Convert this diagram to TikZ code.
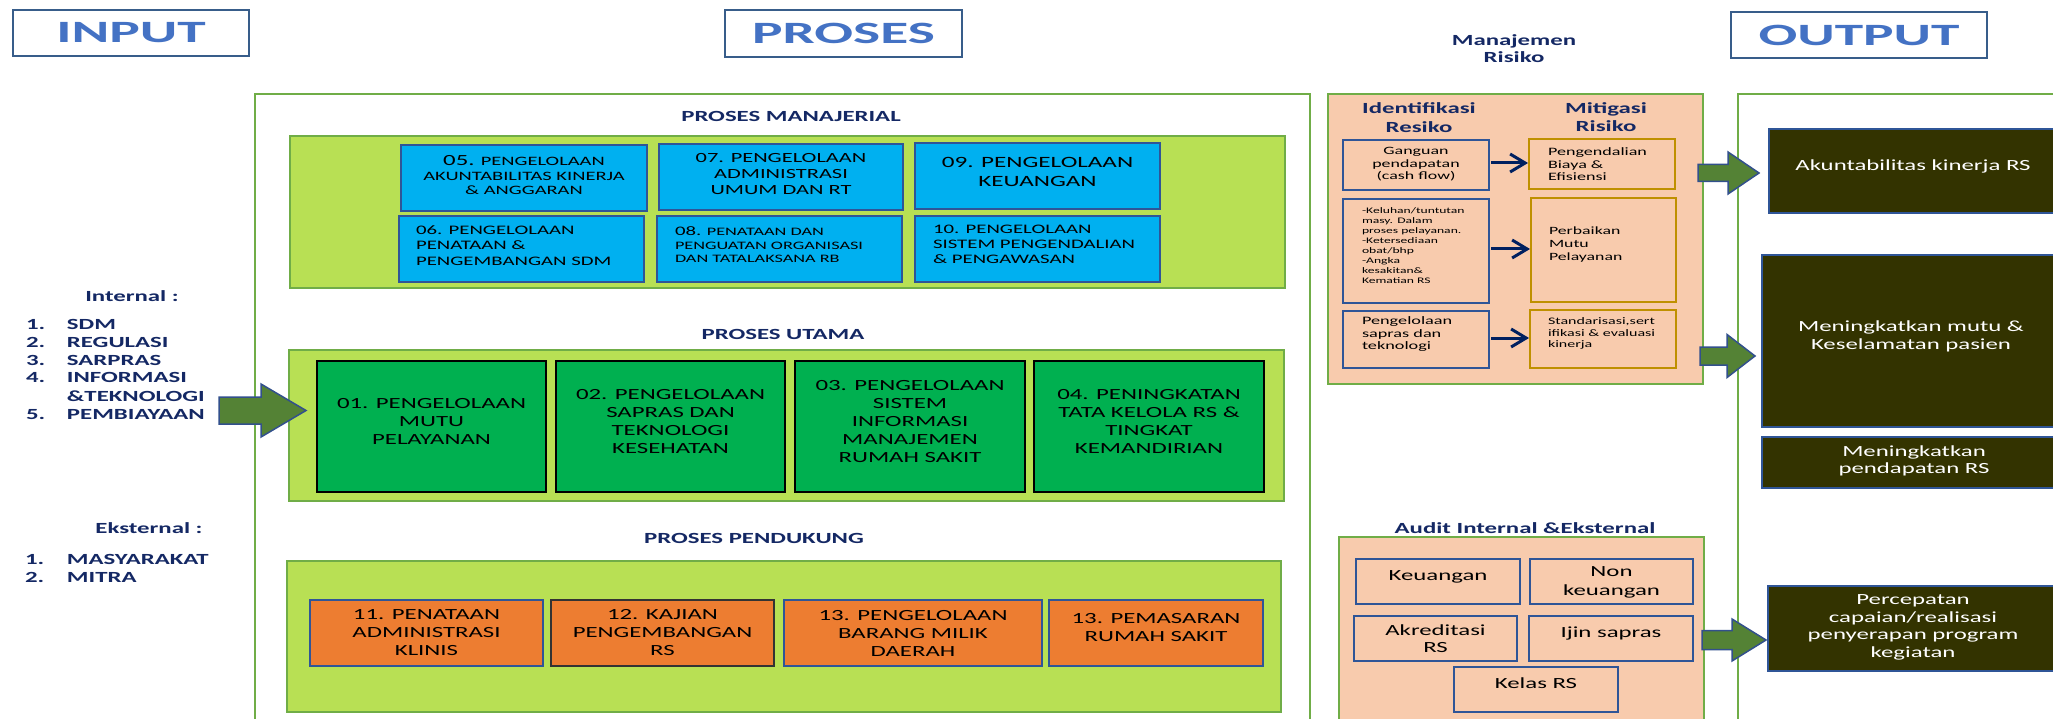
\documentclass[tikz,border=0pt]{standalone}
\usepackage{fontspec}
\setmainfont{Carlito}[FakeStretch=1.6]
\newfontfamily\headfont{Carlito}[FakeStretch=1.85]
\usetikzlibrary{arrows.meta,calc}

\definecolor{hdrblue}{RGB}{68,114,196}
\definecolor{hdrline}{RGB}{56,93,138}
\definecolor{navy}{RGB}{20,40,100}
\definecolor{framegreen}{RGB}{112,173,71}
\definecolor{lime}{RGB}{184,224,84}
\definecolor{skyblue}{RGB}{0,176,240}
\definecolor{boxline}{RGB}{47,85,151}
\definecolor{procgreen}{RGB}{0,176,80}
\definecolor{supportorange}{RGB}{237,125,49}
\definecolor{peach}{RGB}{248,203,173}
\definecolor{gold}{RGB}{191,144,0}
\definecolor{olive}{RGB}{51,51,0}
\definecolor{arrowgreen}{RGB}{84,130,53}
\definecolor{arrowline}{RGB}{50,80,140}
\definecolor{riskarrowc}{RGB}{0,32,96}

\newcommand{\fs}[2]{\fontsize{#1}{#2}\selectfont}
% box from corner (x1,y1) to corner (x2,y2): name, style, x1, y1, x2, y2, text
\newcommand{\rbox}[7]{\node[#2, minimum width={#5-#3}, minimum height={#6-#4}] (#1) at ({(#3+#5)/2},{(#4+#6)/2}) {#7};}
% block arrow: from, to, shaft half width, head half width, head length
\newcommand{\blockarrow}[5]{%
  \draw[blockarr] let \p1=(#1), \p2=(#2) in
    (\x1,\y1+#3) -- (\x2-#5,\y1+#3) -- (\x2-#5,\y1+#4) -- (\x2,\y1)
    -- (\x2-#5,\y1-#4) -- (\x2-#5,\y1-#3) -- (\x1,\y1-#3) -- cycle;}

\tikzset{
  every node/.style={inner sep=0pt, outer sep=0pt},
  hdrbox/.style={draw=hdrline, line width=2pt, fill=white, text=hdrblue,
    font=\headfont\bfseries\fs{31}{36}},
  frame/.style={draw=framegreen, line width=2pt},
  limebox/.style={draw=framegreen, line width=2pt, fill=lime},
  bluebox/.style={draw=boxline, line width=1.8pt, fill=skyblue},
  greenbox/.style={draw=black, line width=2pt, fill=procgreen},
  orangebox/.style={draw=boxline, line width=1.8pt, fill=supportorange},
  peachframe/.style={draw=framegreen, line width=2pt, fill=peach},
  idbox/.style={draw=boxline, line width=1.8pt, fill=peach},
  mitbox/.style={draw=gold, line width=1.8pt, fill=peach},
  outbox/.style={draw=boxline, line width=1.8pt, fill=olive, text=white,
    align=center, font=\fs{15.5}{18}},
  navytitle/.style={text=navy, font=\bfseries\fs{15.5}{18}, align=center},
  listtext/.style={text=navy, font=\bfseries\fs{15.5}{18}},
  boxtext/.style={text=black, align=center, font=\fs{15.5}{18}},
  blockarr/.style={draw=arrowline, line width=1.5pt, fill=arrowgreen, line join=miter},
  riskarrow/.style={draw=riskarrowc, line width=3pt,
    -{Straight Barb[length=15pt,width=18pt]}}
}

\begin{document}
\begin{tikzpicture}[x=1pt, y=-1pt]
\useasboundingbox (0,0) rectangle (2053,719);
\fill[white] (0,0) rectangle (2053,719);

% ---------- headers ----------
\rbox{inputhdr}{hdrbox}{13}{10}{249}{56}{INPUT}
\rbox{proseshdr}{hdrbox}{725}{10}{962}{57}{PROSES}
\rbox{outputhdr}{hdrbox}{1731}{12}{1987}{58}{OUTPUT}
\node[navytitle, font=\bfseries\fs{15.5}{17}] (mrtitle) at (1514,48.5) {Manajemen\\Risiko};

% ---------- input lists ----------
\node[listtext] (intitle) at (132,296) {Internal :};
\node[listtext, anchor=base west] (intlist) at (26,329)
  {\begin{tabular}[t]{@{}p{41pt}@{}l@{}}
   1.&SDM\\ 2.&REGULASI\\ 3.&SARPRAS\\ 4.&INFORMASI\\ &\&TEKNOLOGI\\ 5.&PEMBIAYAAN
   \end{tabular}};
\node[listtext] (extitle) at (149,528) {Eksternal :};
\node[listtext, anchor=base west] (extlist) at (25,564)
  {\begin{tabular}[t]{@{}p{42pt}@{}l@{}}
   1.&MASYARAKAT\\ 2.&MITRA
   \end{tabular}};

% ---------- process frame ----------
\rbox{procframe}{frame}{255}{94}{1310}{740}{}

% managerial processes
\node[navytitle] (tman) at (791,116) {PROSES MANAJERIAL};
\rbox{manlime}{limebox}{290}{136}{1285}{288}{}
\rbox{b05}{bluebox}{401}{145}{647}{211}{}
\rbox{b07}{bluebox}{659}{144}{903}{210}{}
\rbox{b09}{bluebox}{915}{143}{1160}{209}{}
\rbox{b06}{bluebox}{399}{216}{644}{282}{}
\rbox{b08}{bluebox}{657}{216}{902}{282}{}
\rbox{b10}{bluebox}{915}{216}{1160}{282}{}
\node[boxtext, font=\fs{12.8}{14.5}] (t05) at (524,175.5)
  {{\fs{15.5}{14.5}05.} PENGELOLAAN\\AKUNTABILITAS KINERJA\\\& ANGGARAN};
\node[boxtext, font=\fs{14}{16}] (t07) at (781,174)
  {07. PENGELOLAAN\\ADMINISTRASI\\UMUM DAN RT};
\node[boxtext, font=\fs{15.7}{19}] (t09) at (1037.5,171.5)
  {09. PENGELOLAAN\\KEUANGAN};
\node[boxtext, align=left, anchor=west, font=\fs{13}{15.5}] (t06) at (416,245.5)
  {06. PENGELOLAAN\\PENATAAN \&\\PENGEMBANGAN SDM};
\node[boxtext, align=left, anchor=west, font=\fs{11.4}{13.5}] (t08) at (675,245)
  {{\fs{13}{13.5}08.} PENATAAN DAN\\PENGUATAN ORGANISASI\\DAN TATALAKSANA RB};
\node[boxtext, align=left, anchor=west, font=\fs{13}{15}] (t10) at (933,244)
  {10. PENGELOLAAN\\SISTEM PENGENDALIAN\\\& PENGAWASAN};

% core processes
\node[navytitle] (tutama) at (783,334) {PROSES UTAMA};
\rbox{utamalime}{limebox}{289}{350}{1284}{501}{}
\rbox{g01}{greenbox}{317}{361}{546}{492}{}
\rbox{g02}{greenbox}{556}{361}{785}{492}{}
\rbox{g03}{greenbox}{795}{361}{1025}{492}{}
\rbox{g04}{greenbox}{1034}{361}{1264}{492}{}
\node[boxtext] (t01) at (431.5,421) {01. PENGELOLAAN\\MUTU\\PELAYANAN};
\node[boxtext] (t02) at (670.5,421.5) {02. PENGELOLAAN\\SAPRAS DAN\\TEKNOLOGI\\KESEHATAN};
\node[boxtext] (t03) at (910,421.5) {03. PENGELOLAAN\\SISTEM\\INFORMASI\\MANAJEMEN\\RUMAH SAKIT};
\node[boxtext] (t04) at (1149,421.5) {04. PENINGKATAN\\TATA KELOLA RS \&\\TINGKAT\\KEMANDIRIAN};

% supporting processes
\node[navytitle] (tpend) at (754,538) {PROSES PENDUKUNG};
\rbox{pendlime}{limebox}{287}{561}{1281}{712}{}
\rbox{o11}{orangebox}{310}{600}{543}{666}{}
\rbox{o12}{orangebox, draw=black!80}{551}{600}{774}{666}{}
\rbox{o13}{orangebox}{784}{600}{1042}{666}{}
\rbox{o14}{orangebox}{1049}{600}{1263}{666}{}
\node[boxtext] (t11) at (426.5,633) {11. PENATAAN\\ADMINISTRASI\\KLINIS};
\node[boxtext] (t12) at (662.5,633) {12. KAJIAN\\PENGEMBANGAN\\RS};
\node[boxtext] (t13) at (913,633) {13. PENGELOLAAN\\BARANG MILIK\\DAERAH};
\node[boxtext] (t14) at (1156,628) {13. PEMASARAN\\RUMAH SAKIT};

% ---------- risk management ----------
\rbox{riskframe}{peachframe}{1328}{94}{1703}{384}{}
\node[navytitle, font=\bfseries\fs{15.5}{19}] (tident) at (1419,117.5) {Identifikasi\\Resiko};
\node[navytitle, font=\bfseries\fs{15.5}{18}] (tmitig) at (1606,117) {Mitigasi\\Risiko};
\rbox{id1}{idbox}{1343}{140}{1489}{190}{}
\rbox{id2}{idbox}{1343}{199}{1489}{303}{}
\rbox{id3}{idbox}{1343}{311}{1489}{368}{}
\rbox{mt1}{mitbox}{1529}{139}{1675}{189}{}
\rbox{mt2}{mitbox}{1531}{198}{1676}{302}{}
\rbox{mt3}{mitbox}{1530}{310}{1676}{368}{}
\node[boxtext, font=\fs{11.2}{12.5}] (tid1) at (1416,164.5) {Ganguan\\pendapatan\\(cash flow)};
\node[boxtext, align=left, anchor=west, font=\fs{8.5}{10}] (tid2) at (1362,246)
  {-Keluhan/tuntutan\\masy. Dalam\\proses pelayanan.\\-Ketersediaan\\obat/bhp\\-Angka\\kesakitan\&\\Kematian RS};
\node[boxtext, align=left, anchor=west, font=\fs{11.4}{12.5}] (tid3) at (1362,334.5)
  {Pengelolaan\\sapras dan\\teknologi};
\node[boxtext, align=left, anchor=west, font=\fs{11.3}{12.5}] (tmt1) at (1548,164.5)
  {Pengendalian\\Biaya \&\\Efisiensi};
\node[boxtext, align=left, anchor=west, font=\fs{11.1}{13}] (tmt2) at (1549,245)
  {Perbaikan\\Mutu\\Pelayanan};
\node[boxtext, align=left, anchor=west, font=\fs{10}{11.7}] (tmt3) at (1548,333.5)
  {Standarisasi,sert\\ifikasi \& evaluasi\\kinerja};
\draw[riskarrow, shorten <=2pt, shorten >=1pt] ([yshift=2pt]id1.east) -- ([yshift=2pt]id1.east -| mt1.west);
\draw[riskarrow, shorten <=2pt, shorten >=1pt] ([yshift=2pt]id2.east) -- ([yshift=2pt]id2.east -| mt2.west);
\draw[riskarrow, shorten <=2pt, shorten >=1pt] ([yshift=1.5pt]id3.east) -- ([yshift=1.5pt]id3.east -| mt3.west);

% ---------- audit ----------
\node[navytitle] (taudit) at (1525,528) {Audit Internal \&Eksternal};
\rbox{auditframe}{peachframe}{1339}{537}{1704}{740}{}
\rbox{au1}{idbox}{1356}{559}{1520}{604}{}
\rbox{au2}{idbox}{1530}{559}{1693}{604}{}
\rbox{au3}{idbox}{1354}{616}{1517}{661}{}
\rbox{au4}{idbox}{1529}{616}{1693}{661}{}
\rbox{au5}{idbox}{1454}{667}{1618}{712}{}
\node[boxtext] (tau1) at (1438,577) {Keuangan};
\node[boxtext, font=\fs{15.5}{19}] (tau2) at (1611.5,582.5) {Non\\keuangan};
\node[boxtext, font=\fs{15.5}{17}] (tau3) at (1435.5,638.5) {Akreditasi\\RS};
\node[boxtext] (tau4) at (1611,633) {Ijin sapras};
\node[boxtext] (tau5) at (1536,683) {Kelas RS};

% ---------- output ----------
\draw[frame] (1738,740) -- (1738,94) -- (2070,94);
\rbox{out1}{outbox}{1769}{129}{2060}{213}{}
\rbox{out2}{outbox}{1762}{255}{2060}{427}{}
\rbox{out3}{outbox}{1762}{437}{2060}{488}{}
\rbox{out4}{outbox}{1768}{586}{2060}{671}{}
\node[outbox, draw=none, fill=none] (tout1) at (1913,166) {Akuntabilitas kinerja RS};
\node[outbox, draw=none, fill=none] (tout2) at (1911,336) {Meningkatkan mutu \&\\Keselamatan pasien};
\node[outbox, draw=none, fill=none, font=\fs{15.5}{17}] (tout3) at (1914,460.5) {Meningkatkan\\pendapatan RS};
\node[outbox, draw=none, fill=none, font=\fs{15.5}{17.7}] (tout4) at (1913,627.5)
  {Percepatan\\capaian/realisasi\\penyerapan program\\kegiatan};

% ---------- block arrows ----------
\coordinate (inS) at (219,410.5);
\coordinate (inE) at (306,410.5);
\coordinate (r1S) at (1698,173);
\coordinate (r1E) at (1759,173);
\coordinate (r2S) at (1700,356);
\coordinate (r2E) at (1755,356);
\coordinate (r3S) at (1702,640);
\coordinate (r3E) at (1766,640);
\blockarrow{inS}{inE}{13.5pt}{26.5pt}{45pt}
\blockarrow{r1S}{r1E}{8.5pt}{21pt}{31pt}
\blockarrow{r2S}{r2E}{9pt}{21.5pt}{28pt}
\blockarrow{r3S}{r3E}{9.5pt}{21pt}{34pt}
\end{tikzpicture}
\end{document}
